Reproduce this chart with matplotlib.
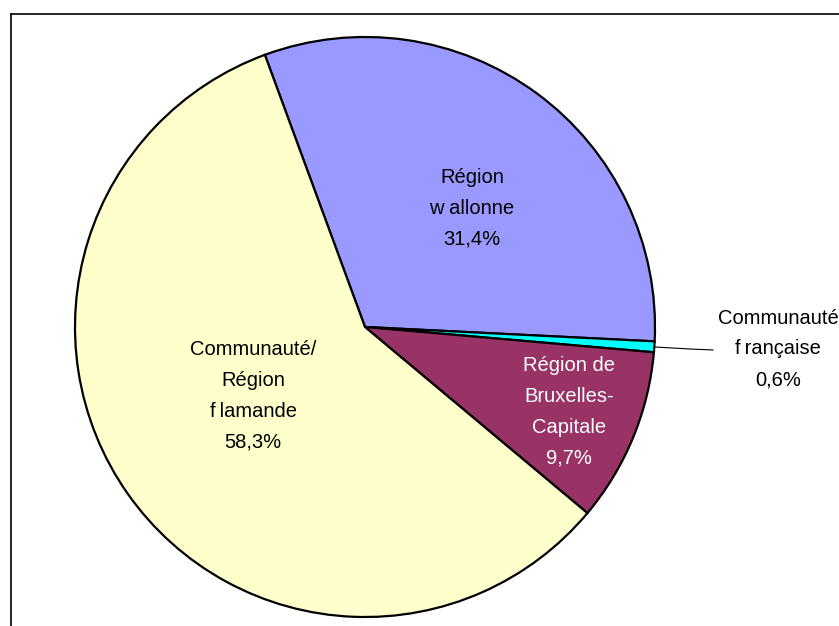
import matplotlib.pyplot as plt
from matplotlib.lines import Line2D

# shares of each entity, clockwise from the first slice
labels = ["Région\nw allonne", "Communauté\nf\u2009rançaise", "Région de\nBruxelles-\nCapitale", "Communauté/\nRégion\nf\u2009lamande"]
shares = [31.4, 0.6, 9.7, 58.3]
colors = ["#9999FF", "#00FFFF", "#993366", "#FFFFCC"]
text_colors = ["black", "black", "white", "black"]
# where each label sits (pixels, y measured from top)
label_pos = [(472, 208), (778, 349), (569, 412), (253, 396)]

W, H = 839, 626
fig = plt.figure(figsize=(W / 100, H / 100), dpi=100)
ax = fig.add_axes([0, 0, 1, 1])
ax.set_xlim(0, W)
ax.set_ylim(0, H)
ax.axis("off")

plt.rcParams["font.family"] = ["Liberation Sans", "DejaVu Sans"]

cx, cy, r = 365, H - 327, 290
ax.pie(shares, colors=colors, startangle=110.2, counterclock=False,
       center=(cx, cy), radius=r,
       wedgeprops=dict(edgecolor="black", linewidth=1.6))
ax.set_xlim(0, W)
ax.set_ylim(0, H)
ax.set_aspect("auto")

for lab, val, col, (x, y) in zip(labels, shares, text_colors, label_pos):
    txt = lab + "\n" + ("%.1f%%" % val).replace(".", ",")
    ax.text(x, H - y, txt, ha="center", va="center", color=col,
            fontsize=14.5, linespacing=1.78, family=["Liberation Sans", "DejaVu Sans"])

# leader line to the small slice label
ax.plot([655, 690, 713], [H - 347, H - 349, H - 350], color="black", lw=0.8)

# chart area border (left and top edges visible)
fig.add_artist(Line2D([11 / W, 11 / W], [0, 1 - 14 / H], color="black", lw=1.2))
fig.add_artist(Line2D([11 / W, 1], [1 - 14 / H, 1 - 14 / H], color="black", lw=1.2))

fig.savefig("out.png", dpi=100)
